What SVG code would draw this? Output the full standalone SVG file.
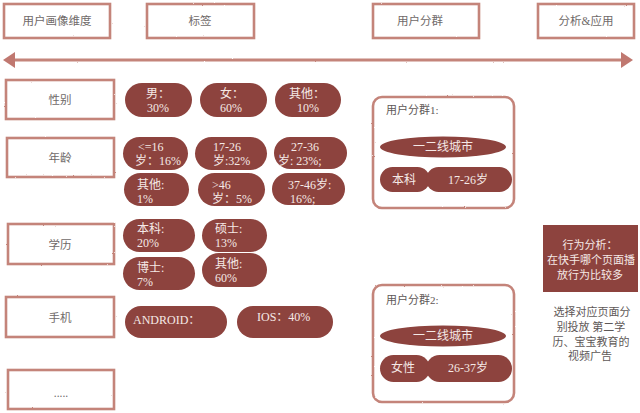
<svg xmlns="http://www.w3.org/2000/svg" width="640" height="413" viewBox="0 0 640 413">
<defs>
<filter id="rough" x="-5%" y="-5%" width="110%" height="110%">
<feTurbulence type="fractalNoise" baseFrequency="0.9" numOctaves="2" seed="3" result="n"/>
<feDisplacementMap in="SourceGraphic" in2="n" scale="1.6" xChannelSelector="R" yChannelSelector="G"/>
</filter>
<filter id="roughU" filterUnits="userSpaceOnUse" x="0" y="50" width="640" height="20">
<feTurbulence type="fractalNoise" baseFrequency="0.9" numOctaves="2" seed="5" result="n"/>
<feDisplacementMap in="SourceGraphic" in2="n" scale="1.6" xChannelSelector="R" yChannelSelector="G"/>
</filter>
</defs>
<style>
.box{fill:#fff;stroke:#c4847a;stroke-width:2.6;filter:url(#rough)}
.lbl{font-family:"Liberation Serif","Noto Sans CJK SC",serif;font-size:11.5px;fill:#6f6a69;text-anchor:middle;dominant-baseline:central}
.pill{fill:#8d433e}
.pt{font-family:"Liberation Serif","Noto Sans CJK SC",serif;font-size:12px;fill:#f5e9e6;dominant-baseline:central}
.c{text-anchor:middle}
.gt{font-family:"Liberation Serif","Noto Sans CJK SC",serif;font-size:11px;fill:#5e5857;dominant-baseline:central}
</style>
<rect width="640" height="413" fill="#fff"/>

<g id="hdr1"><rect class="box" x="4" y="4" width="106" height="34"/><text class="lbl" x="57" y="21">用户画像维度</text></g>
<g id="hdr2"><rect class="box" x="147" y="4" width="107" height="34"/><text class="lbl" x="200" y="21">标签</text></g>
<g id="hdr3"><rect class="box" x="373" y="4" width="106" height="34"/><text class="lbl" x="420" y="21">用户分群</text></g>
<g id="hdr4"><rect class="box" x="538" y="4" width="96" height="34"/><text class="lbl" x="586" y="21">分析&amp;应用</text></g>

<g id="connectors">
<path d="M12,60 L623,60" stroke="#c4847a" stroke-width="3" fill="none" filter="url(#roughU)"/>
<polygon points="3,60 15,52 15,68" fill="#c07870"/>
<polygon points="633,60 621,52 621,68" fill="#c07870"/>
</g>

<g id="row-gender"><rect class="box" x="6" y="80" width="108" height="39"/><text class="lbl" x="60" y="100">性别</text></g>
<g id="row-age"><rect class="box" x="7" y="138" width="107" height="39"/><text class="lbl" x="60" y="158">年龄</text></g>
<g id="row-edu"><rect class="box" x="8" y="224" width="106" height="40"/><text class="lbl" x="60" y="245">学历</text></g>
<g id="row-phone"><rect class="box" x="6" y="297" width="108" height="40"/><text class="lbl" x="60" y="318">手机</text></g>
<g id="row-more"><rect class="box" x="8" y="370" width="106" height="39"/><text class="lbl" x="61" y="393">.....</text></g>

<g id="p-male"><rect class="pill" x="125" y="83" width="67" height="34" rx="17"/><text class="pt c" x="158" y="94">男：</text><text class="pt c" x="158" y="108">30%</text></g>
<g id="p-female"><rect class="pill" x="200" y="83" width="67" height="34" rx="17"/><text class="pt c" x="232" y="94">女：</text><text class="pt c" x="231" y="108">60%</text></g>
<g id="p-gother"><rect class="pill" x="275" y="83" width="66" height="34" rx="17"/><text class="pt c" x="307" y="94">其他：</text><text class="pt c" x="308" y="108">10%</text></g>

<g id="p-a16"><rect class="pill" x="123" y="137" width="65" height="33" rx="16.5"/><text class="pt" x="138" y="147">&lt;=16</text><text class="pt" x="135" y="161">岁：16%</text></g>
<g id="p-a1726"><rect class="pill" x="195" y="137" width="72" height="33" rx="16.5"/><text class="pt" x="213" y="147">17-26</text><text class="pt" x="213" y="161">岁:32%</text></g>
<g id="p-a2736"><rect class="pill" x="274" y="137" width="73" height="32" rx="16"/><text class="pt" x="291" y="147">27-36</text><text class="pt" x="278" y="161">岁: 23%;</text></g>
<g id="p-aother"><rect class="pill" x="124" y="173" width="65" height="33" rx="16.5"/><text class="pt" x="137" y="185">其他:</text><text class="pt" x="137" y="199">1%</text></g>
<g id="p-a46"><rect class="pill" x="198" y="173" width="67" height="33" rx="16.5"/><text class="pt" x="212" y="185">&gt;46</text><text class="pt" x="212" y="199">岁：5%</text></g>
<g id="p-a3746"><rect class="pill" x="272" y="173" width="73" height="32" rx="16"/><text class="pt" x="288" y="185">37-46岁:</text><text class="pt" x="290" y="199">16%;</text></g>

<g id="p-bk"><rect class="pill" x="123" y="219" width="72" height="33" rx="16.5"/><text class="pt" x="137" y="229">本科:</text><text class="pt" x="137" y="243">20%</text></g>
<g id="p-ss"><rect class="pill" x="202" y="219" width="65" height="33" rx="16.5"/><text class="pt" x="215" y="229">硕士:</text><text class="pt" x="215" y="243">13%</text></g>
<g id="p-bs"><rect class="pill" x="123" y="257" width="72" height="33" rx="16.5"/><text class="pt" x="137" y="268">博士:</text><text class="pt" x="137" y="282">7%</text></g>
<g id="p-eother"><rect class="pill" x="202" y="253" width="65" height="34" rx="17"/><text class="pt" x="215" y="264">其他:</text><text class="pt" x="215" y="278">60%</text></g>

<g id="p-android"><rect class="pill" x="125" y="306" width="102" height="32" rx="16"/><text class="pt" x="133" y="320">ANDROID：</text></g>
<g id="p-ios"><rect class="pill" x="237" y="306" width="96" height="32" rx="16"/><text class="pt" x="257" y="317">IOS：40%</text></g>

<g id="group1">
<rect class="box" x="373" y="97" width="141" height="111" rx="9"/>
<text class="gt" x="386" y="110">用户分群1:</text>
<ellipse class="pill" cx="443" cy="147" rx="63" ry="10.5"/>
<text class="pt c" x="443" y="147">一二线城市</text>
<rect class="pill" x="380" y="167" width="50" height="25" rx="12.5"/>
<rect class="pill" x="426" y="167" width="86" height="25" rx="12.5"/>
<text class="pt c" x="404" y="180">本科</text>
<text class="pt c" x="468" y="180">17-26岁</text>
</g>

<g id="group2">
<rect class="box" x="373" y="285" width="141" height="117" rx="9"/>
<text class="gt" x="386" y="300">用户分群2:</text>
<ellipse class="pill" cx="443" cy="336" rx="63" ry="10.5"/>
<text class="pt c" x="443" y="336">一二线城市</text>
<rect class="pill" x="380" y="355" width="50" height="27" rx="13.5"/>
<rect class="pill" x="426" y="355" width="86" height="27" rx="13.5"/>
<text class="pt c" x="403" y="368">女性</text>
<text class="pt c" x="468" y="368">26-37岁</text>
</g>

<g id="behavior">
<rect class="pill" x="543" y="225" width="95" height="67"/>
<text class="pt c" x="590" y="245" style="font-size:11px">行为分析：</text>
<text class="pt c" x="591" y="260" style="font-size:11px">在快手哪个页面播</text>
<text class="pt c" x="590" y="275" style="font-size:11px">放行为比较多</text>
</g>

<g id="advice">
<text class="gt" x="592" y="312" text-anchor="middle">选择对应页面分</text>
<text class="gt" x="591" y="327" text-anchor="middle">别投放 第二学</text>
<text class="gt" x="591" y="342" text-anchor="middle">历、宝宝教育的</text>
<text class="gt" x="590" y="356" text-anchor="middle">视频广告</text>
</g>
</svg>
